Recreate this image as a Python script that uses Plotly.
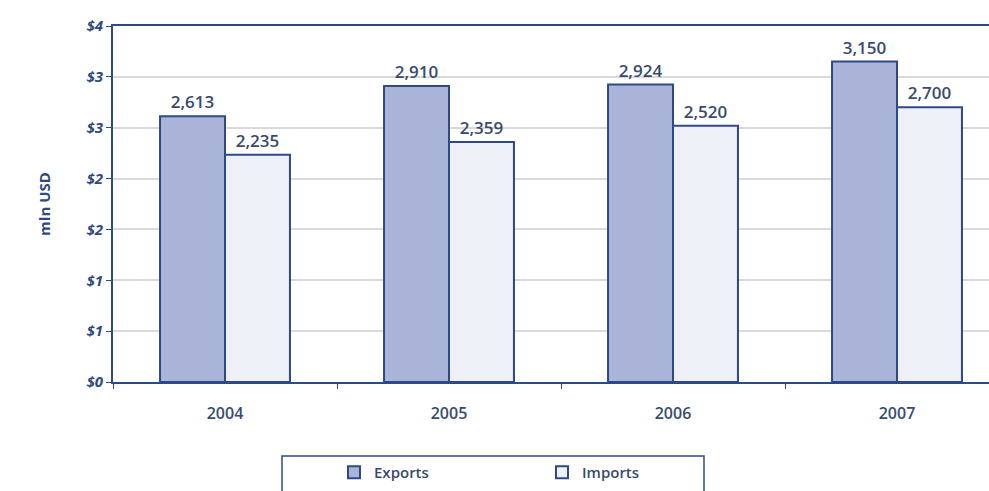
import plotly.graph_objects as go

# Trade values, mln USD
years = ["2004", "2005", "2006", "2007"]
exports = [2613, 2910, 2924, 3150]
imports = [2235, 2359, 2520, 2700]

y_tickvals = [0, 500, 1000, 1500, 2000, 2500, 3000, 3500]
y_ticktext = ["$0", "$1", "$1", "$2", "$2", "$3", "$3", "$4"]

NAVY = "#2d4a86"
TEXT = "#3a4a6e"
FONT = "Open Sans, Liberation Sans, sans-serif"

W, H = 989, 491
ML, MR, MT, MB = 113, 0, 26, 109
PW, PH = W - ML - MR, H - MT - MB
CAT_W = 224  # pixel width of one year slot


def px_x(p):
    return (p - ML) / PW


def px_y(p):
    return (H - MB - p) / PH


fig = go.Figure()
fig.add_trace(go.Bar(
    name="Exports", x=years, y=exports,
    marker=dict(color="#aab3d8", line=dict(color=NAVY, width=2)),
    text=[f"{v:,}" for v in exports], textposition="outside",
    textfont=dict(family=FONT, size=17, color=TEXT, weight=600),
))
fig.add_trace(go.Bar(
    name="Imports", x=years, y=imports,
    marker=dict(color="#eef0f8", line=dict(color=NAVY, width=2)),
    text=[f"{v:,}" for v in imports], textposition="outside",
    textfont=dict(family=FONT, size=17, color=TEXT, weight=600),
))

# legend frame: left, top and right sides (bottom runs off the page)
lx0, lx1, ly0, ly1 = px_x(282), px_x(704), px_y(H), px_y(456)
fig.add_shape(type="path", xref="paper", yref="paper",
              path=f"M {lx0},{ly0} L {lx0},{ly1} L {lx1},{ly1} L {lx1},{ly0}",
              line=dict(color=NAVY, width=1.5), layer="below")

fig.update_layout(
    width=W, height=H,
    margin=dict(l=ML, r=MR, t=MT, b=MB, autoexpand=False),
    paper_bgcolor="white", plot_bgcolor="white",
    barmode="group", bargap=0.42, bargroupgap=0,
    font=dict(family=FONT, color=TEXT),
    showlegend=True,
    legend=dict(
        orientation="h", x=px_x(334), xanchor="left",
        y=px_y(489), yanchor="bottom",
        bgcolor="rgba(0,0,0,0)", borderwidth=0,
        font=dict(family=FONT, size=15, color=TEXT, weight=600),
        entrywidth=163, itemwidth=30,
    ),
    xaxis=dict(
        range=[-0.5, -0.5 + PW / CAT_W],
        showline=True, linecolor=NAVY, linewidth=2, mirror=True,
        ticks="outside", tickson="boundaries", ticklen=5, tickcolor=NAVY,
        tickfont=dict(family=FONT, size=16, color=TEXT, weight=600),
        ticklabelstandoff=16,
        showgrid=False, automargin=False,
    ),
    yaxis=dict(
        range=[0, 3500], tickvals=y_tickvals, ticktext=y_ticktext,
        showline=True, linecolor=NAVY, linewidth=2,
        ticks="outside", ticklen=5, tickcolor=NAVY,
        tickfont=dict(family=FONT, size=15, color="#2f4a80",
                      weight="bold", style="italic"),
        showgrid=True, gridcolor="#d9d9d9", gridwidth=1.5,
        zeroline=False, automargin=False,
        title=dict(text="mln USD", standoff=32,
                   font=dict(family=FONT, size=15, color=NAVY, weight="bold")),
    ),
)

fig.write_html("out.html")
